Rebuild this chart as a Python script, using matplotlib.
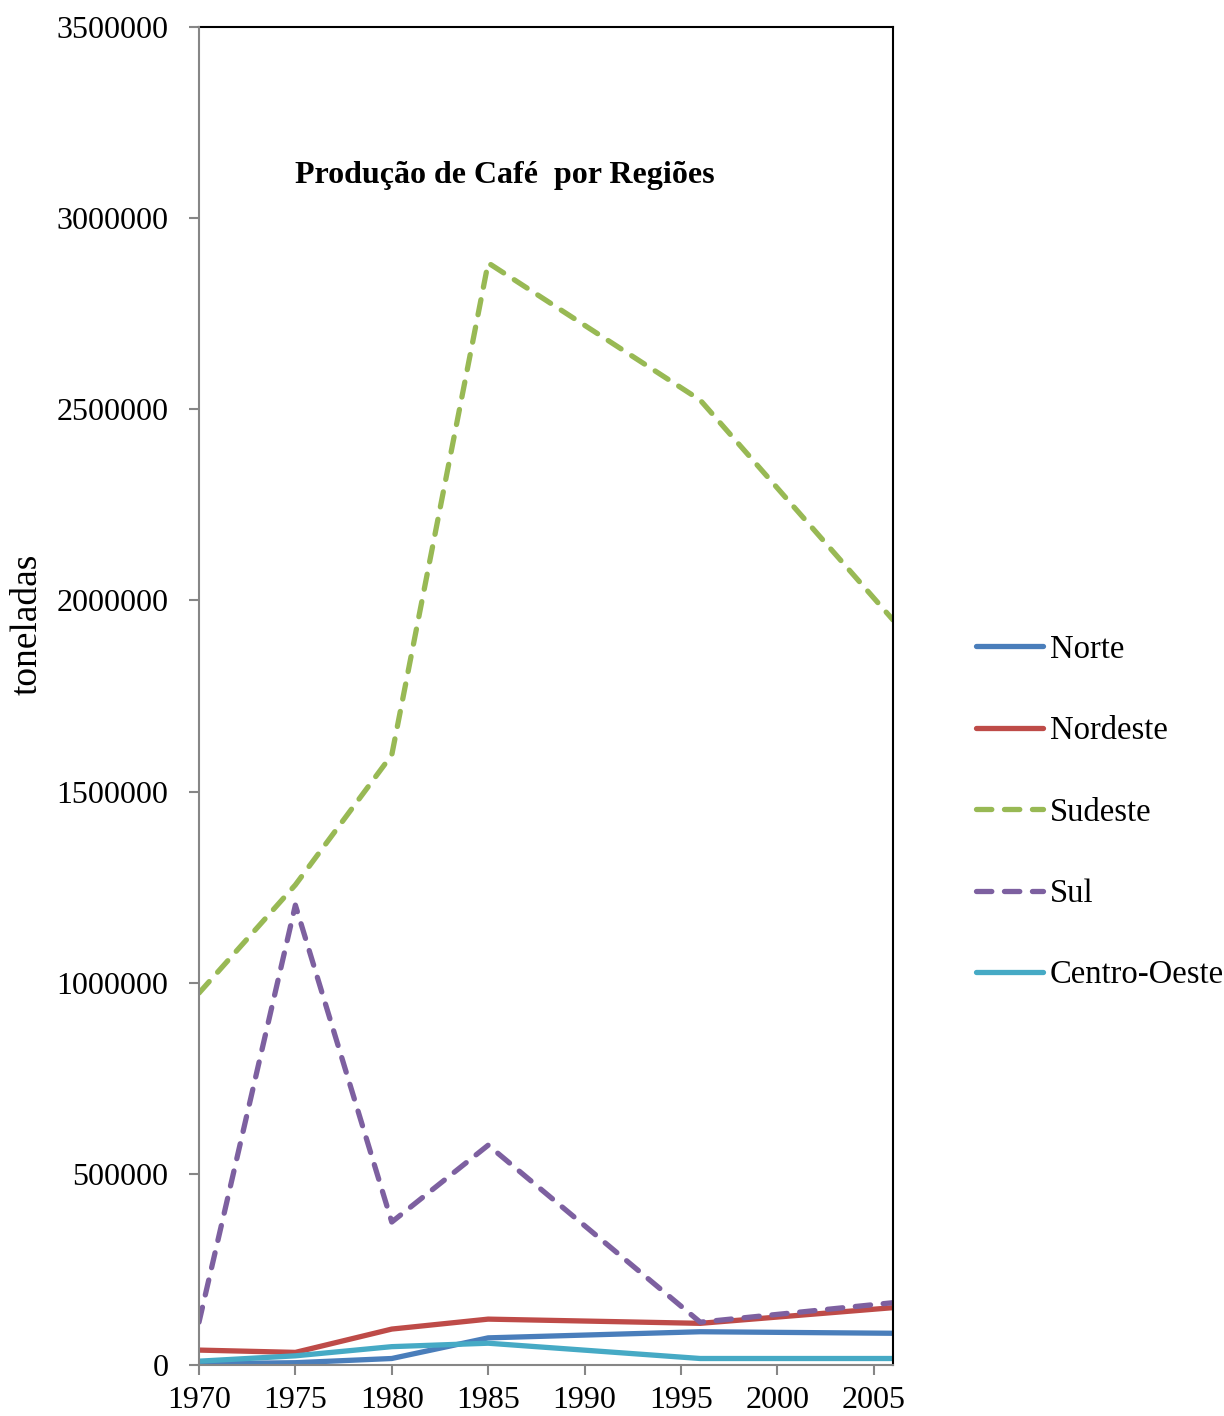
import matplotlib
matplotlib.use("Agg")
import matplotlib.pyplot as plt

plt.rcParams['font.family'] = ['Liberation Serif', 'DejaVu Serif']

anos = [1970, 1975, 1980, 1985, 1996, 2006]
norte = [3000, 6000, 17000, 71000, 87000, 83000]
nordeste = [39000, 33000, 94000, 120000, 109000, 150000]
sudeste = [973000, 1256000, 1596000, 2883000, 2524000, 1949000]
sul = [112000, 1203000, 374000, 575000, 112000, 163000]
centro_oeste = [10000, 24000, 48000, 57000, 17000, 17000]

regioes = ["Norte", "Nordeste", "Sudeste", "Sul", "Centro-Oeste"]
cores = ["#4A7EBB", "#BE4B48", "#98B954", "#7D60A0", "#46AAC5"]
tracos = ["-", "-", "--", "--", "-"]
xticks = [1970, 1975, 1980, 1985, 1990, 1995, 2000, 2005]
yticks = [0, 500000, 1000000, 1500000, 2000000, 2500000, 3000000, 3500000]

fig = plt.figure(figsize=(12.24, 14.16), dpi=100)
ax = fig.add_axes([199 / 1224, 1 - 1365 / 1416, (893 - 199) / 1224, (1365 - 27) / 1416])

series = [norte, nordeste, sudeste, sul, centro_oeste]
for nome, vals, cor, ls in zip(regioes, series, cores, tracos):
    line, = ax.plot(anos, vals, color=cor, lw=3.8, label=nome, solid_capstyle='round')
    if ls == "--":
        # tracejado arredondado como no Excel
        line.set_dashes((2.9, 2.4))
        line.set_dash_capstyle('round')

ax.set_xlim(1970, 2006)
ax.set_ylim(0, 3500000)
ax.set_xticks(xticks)
ax.set_yticks(yticks)
ax.set_yticklabels([str(v) for v in yticks])
ax.tick_params(axis='both', labelsize=23, length=7, width=1.5, color='#868686', direction='out')
ax.tick_params(axis='y', pad=15)
ax.tick_params(axis='x', pad=8)
for s in ['left', 'bottom']:
    ax.spines[s].set_color('#868686')
    ax.spines[s].set_linewidth(1.5)
    ax.spines[s].set_zorder(5)
for s in ['top', 'right']:
    ax.spines[s].set_color('black')
    ax.spines[s].set_linewidth(1.5)

fig.text(27 / 1224, 1 - 624 / 1416, "toneladas", rotation=90, fontsize=27, ha='center', va='center')
fig.text(505 / 1224, 1 - 176 / 1416, "Produção de Café  por Regiões", fontsize=23,
         fontweight='bold', ha='center', va='center')

fig.legend(loc='upper left', bbox_to_anchor=(960 / 1224, 1 - 618 / 1416), frameon=False,
           fontsize=23.5, handlelength=2.05, handletextpad=0.2, labelspacing=1.56, borderpad=0)

fig.savefig("out.png", dpi=100)
